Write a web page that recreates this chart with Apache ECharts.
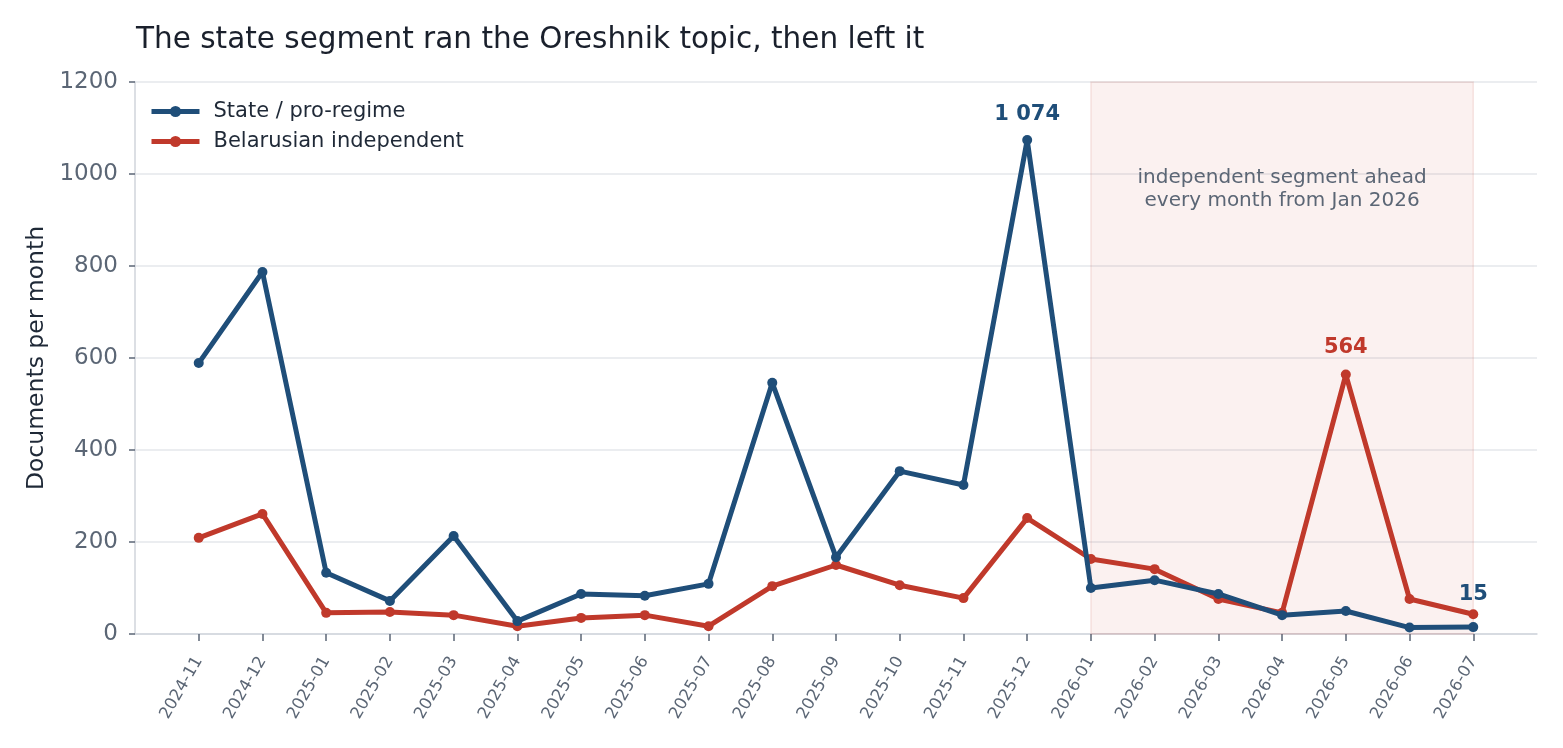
<!DOCTYPE html>
<html><head><meta charset="utf-8">
<script src="https://cdn.jsdelivr.net/npm/echarts@6/dist/echarts.min.js"></script>
<style>html,body{margin:0;padding:0;background:#fff}#c{width:1563px;height:748px}</style>
</head><body><div id="c"></div>
<script>
const months = ['2024-11','2024-12','2025-01','2025-02','2025-03','2025-04','2025-05','2025-06','2025-07','2025-08','2025-09','2025-10','2025-11','2025-12','2026-01','2026-02','2026-03','2026-04','2026-05','2026-06','2026-07'];
const stateVals = [589,787,133,72,213,28,87,83,109,546,167,354,324,1074,100,117,87,41,50,14,15];
const indepVals = [209,261,46,48,41,17,35,41,17,104,150,106,78,252,163,141,76,46,564,76,43];
const yTicks = [0,200,400,600,800,1000,1200];
const shadeFrom = '2026-01', shadeTo = '2026-07';
const FONT = 'DejaVu Sans';
const BLUE = '#1f4e79', RED = '#c0392b';

function toPts(vals, labelIdx, labelOffsets, color){
  return vals.map((v,i)=>{
    const p = {value:[i,v]};
    const k = labelIdx.indexOf(i);
    if(k>=0){
      p.label = {show:true, position:'top', offset:labelOffsets[k], color:color, fontFamily:FONT, fontWeight:'bold', fontSize:21,
        formatter: ()=> v>=1000 ? String(v).replace(/\B(?=(\d{3})+(?!\d))/g,' ') : String(v)};
    }
    return p;
  });
}

const chart = echarts.init(document.getElementById('c'), null, {renderer:'canvas'});
chart.setOption({
  animation:false,
  textStyle:{fontFamily:FONT},
  title:{text:'The state segment ran the Oreshnik topic, then left it', left:131, top:20,
    textStyle:{fontFamily:FONT, fontSize:29.5, fontWeight:'normal', color:'#1a202c'}},
  legend:{left:144, top:96, orient:'vertical', itemWidth:48, itemHeight:14, itemGap:9,
    lineStyle:{width:5},
    textStyle:{fontFamily:FONT, fontSize:21, color:'#1f2937', padding:[0,0,0,9]}},
  grid:{left:135, right:26, top:82, bottom:114, containLabel:false},
  xAxis:{type:'value', min:-1, max:21, interval:1,
    axisLine:{show:true, onZero:false, lineStyle:{color:'#d1d5db', width:1.5}},
    splitLine:{show:false},
    axisTick:{show:true, length:7, lineStyle:{color:'#5b6675', width:1.5}, customValues: months.map((m,i)=>i)},
    axisLabel:{rotate:60, fontSize:16.5, color:'#5b6675', margin:24, fontFamily:FONT,
      customValues: months.map((m,i)=>i),
      formatter:(v)=> months[Math.round(v)] || ''}
  },
  yAxis:{type:'value', min:0, max:1200, interval:200,
    name:'Documents per month', nameLocation:'middle', nameGap:86, nameRotate:90,
    nameTextStyle:{fontFamily:FONT, fontSize:23.5, color:'#1f2937'},
    axisLine:{show:true, onZero:false, lineStyle:{color:'#d1d5db', width:1.5}},
    axisTick:{show:true, length:6, lineStyle:{color:'#5b6675', width:1.5}},
    axisLabel:{fontSize:23, color:'#5b6675', margin:17, fontFamily:FONT,
      customValues:yTicks, formatter:(v)=>String(v)},
    splitLine:{show:true, lineStyle:{color:'#e5e7eb', width:1.5}}
  },
  series:[
    {name:'State / pro-regime', type:'line', data:toPts(stateVals,[13,20],[[0,-5],[0,-12]],BLUE),
      color:BLUE, lineStyle:{width:5, color:BLUE}, symbol:'circle', symbolSize:10,
      itemStyle:{color:BLUE}, z:3,
      markArea:{silent:true, itemStyle:{color:'rgba(192,57,43,0.07)', borderColor:'rgba(192,57,43,0.12)', borderWidth:1.5},
        label:{show:true, position:['50%',85], align:'center', verticalAlign:'top', fontFamily:FONT, fontSize:20, lineHeight:23, color:'#5b6675',
          formatter:'independent segment ahead\nevery month from Jan 2026'},
        data:[[{xAxis:months.indexOf(shadeFrom), yAxis:1200},{xAxis:months.indexOf(shadeTo), yAxis:0}]]}
    },
    {name:'Belarusian independent', type:'line', data:toPts(indepVals,[18],[[0,-7]],RED),
      color:RED, lineStyle:{width:5, color:RED}, symbol:'circle', symbolSize:10,
      itemStyle:{color:RED}, z:2}
  ]
});
</script></body></html>
